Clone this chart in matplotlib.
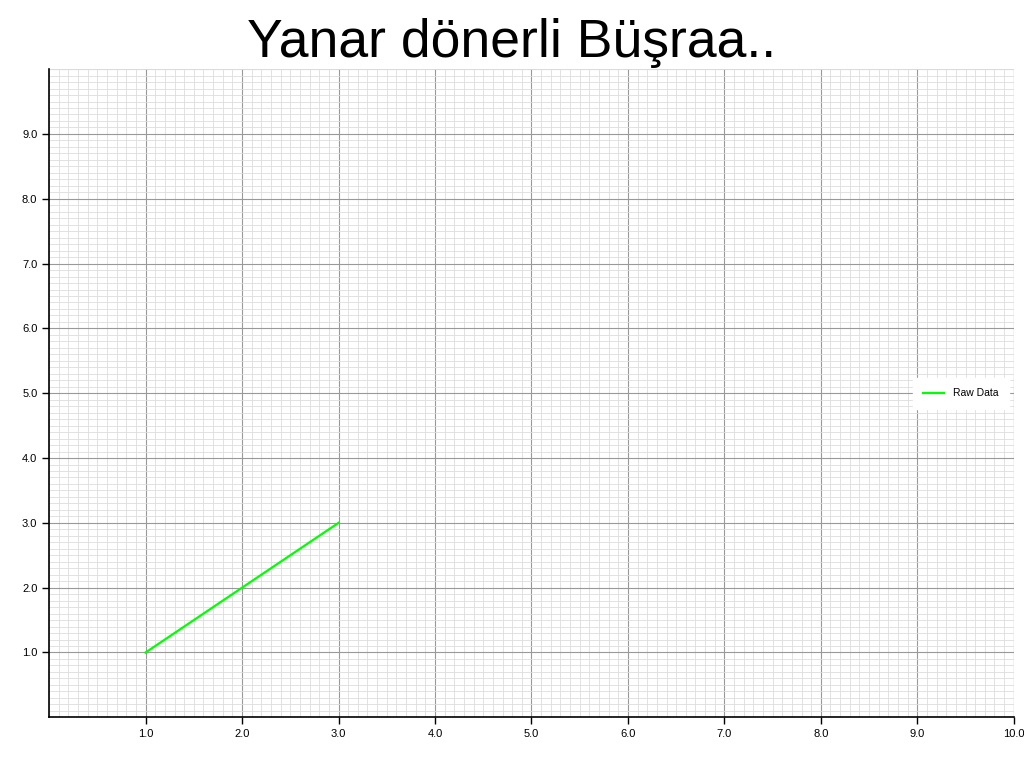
import matplotlib.pyplot as plt
import numpy as np
from matplotlib.ticker import MultipleLocator, FixedLocator

plt.rcParams['font.family'] = ['Liberation Sans', 'DejaVu Sans']

# data
x = [1, 2, 3]
y = [1, 2, 3]
x_ticks = [1.0, 2.0, 3.0, 4.0, 5.0, 6.0, 7.0, 8.0, 9.0, 10.0]
y_ticks = [1.0, 2.0, 3.0, 4.0, 5.0, 6.0, 7.0, 8.0, 9.0]

fig = plt.figure(figsize=(10.24, 7.68), dpi=100)
ax = fig.add_axes([0.048, 0.066, 0.942, 0.844])

ax.plot(x, y, color='#00ff00', linewidth=1.6, label='Raw Data')

ax.set_xlim(0, 10)
ax.set_ylim(0, 10)
ax.xaxis.set_major_locator(FixedLocator(x_ticks))
ax.yaxis.set_major_locator(FixedLocator(y_ticks))
ax.set_xticklabels(['%.1f' % v for v in x_ticks])
ax.set_yticklabels(['%.1f' % v for v in y_ticks])
ax.xaxis.set_minor_locator(MultipleLocator(0.1))
ax.yaxis.set_minor_locator(MultipleLocator(0.1))
ax.tick_params(which='major', labelsize=8, length=5, width=1, colors='black')
ax.tick_params(which='minor', length=0)

ax.grid(which='major', color='#999999', linewidth=0.8)
ax.grid(which='minor', color='#dddddd', linewidth=0.6)
# extra grid lines at the axis limits
ax.axvline(10, color='#999999', linewidth=0.8, zorder=0)
ax.axhline(10, color='#cccccc', linewidth=0.8, zorder=0)
ax.set_axisbelow(True)

for side in ['top', 'right']:
    ax.spines[side].set_visible(False)
for side in ['left', 'bottom']:
    ax.spines[side].set_linewidth(1.2)

leg = ax.legend(loc='center right', fontsize=7.5, frameon=True, framealpha=1,
                edgecolor='white', fancybox=False, borderpad=1.0, handlelength=2)

fig.text(0.5, 1 - 57 / 768, 'Yanar dönerli Büşraa..', fontsize=38.5,
         ha='center', va='baseline')

fig.savefig('out.png', dpi=100)
